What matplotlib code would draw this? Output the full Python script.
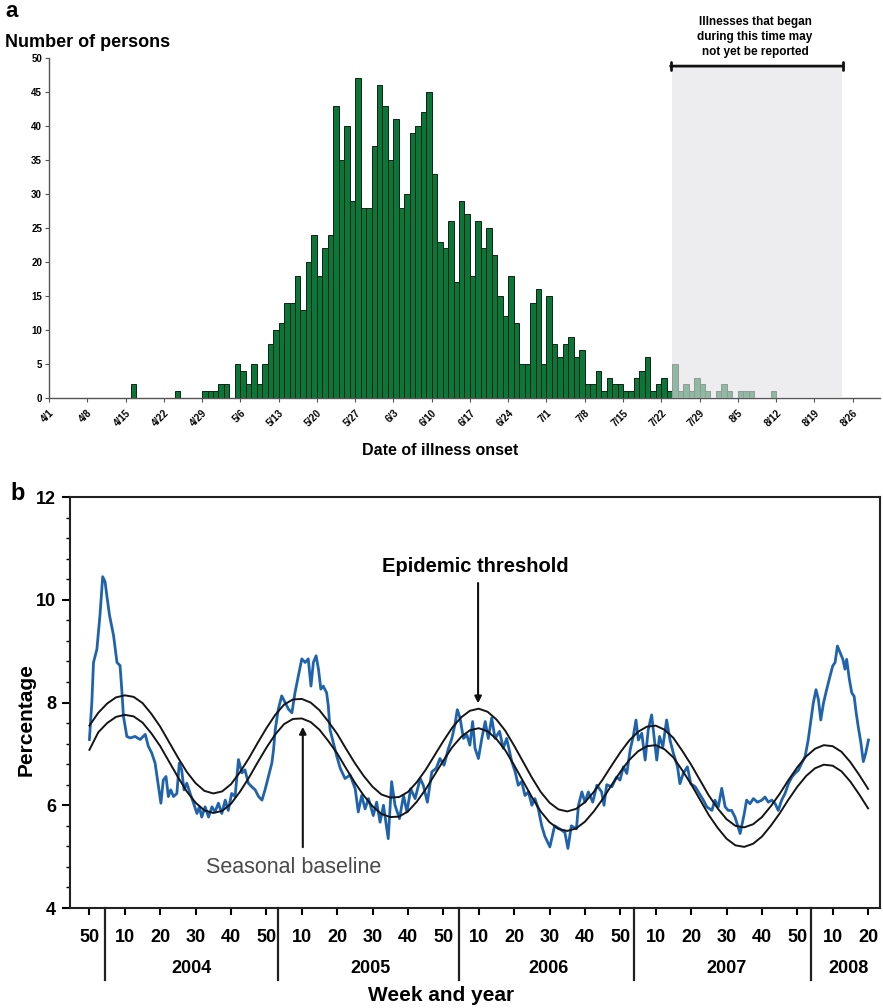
import numpy as np
import matplotlib
matplotlib.use("Agg")
import matplotlib.pyplot as plt
from matplotlib.patches import Rectangle
from matplotlib.ticker import MultipleLocator
import matplotlib.transforms as mtransforms

plt.rcParams['font.family'] = ['Liberation Sans', 'DejaVu Sans']

# ---------------- panel a: daily case counts from 4/1 ----------------
day_counts = [0] * 15 + [2] + [0] * 7 + [1] + [0] * 4 + [
    1, 1, 1, 2, 2, 0, 5, 4, 2, 5, 2, 5, 8, 10, 11, 14, 14, 18, 13, 20, 24, 18, 22, 24,
    43, 35, 40, 29, 47, 28, 28, 37, 46, 43, 35, 41, 28, 30, 39, 40, 42, 45, 33, 23, 22, 26,
    17, 29, 27, 18, 26, 22, 25, 21, 15, 12, 18, 11, 5, 5, 14, 16, 5, 15, 8, 6,
    8, 9, 6, 7, 2, 2, 4, 1, 3, 2, 2, 1, 1, 3, 4, 6, 1, 2, 3, 1, 5,
    1, 2, 1, 3, 2, 1, 0, 1, 2, 1, 0, 1, 1, 1, 0, 0, 0, 1]
date_labels = ['4/1', '4/8', '4/15', '4/22', '4/29', '5/6', '5/13', '5/20', '5/27',
               '6/3', '6/10', '6/17', '6/24', '7/1', '7/8', '7/15', '7/22', '7/29',
               '8/5', '8/12', '8/19', '8/26']
unreported_start = 114   # day index where reporting lag begins
unreported_end = 145

# ---------------- panel b: ILI percentage by week ----------------
# x = weeks since 2003 week 50
ili_week = [0.0, 0.7, 1.2, 2.2, 3.1, 3.9, 4.6, 5.1, 5.9, 7.1, 8.1, 9.0, 9.5, 10.0, 11.0, 12.0,
            13.4, 14.9, 16.4, 17.3, 18.3, 19.3, 20.3, 21.0, 21.7, 22.5, 23.2, 23.9, 24.7, 25.7,
            26.4, 27.1, 27.8, 28.6, 29.6, 30.6, 31.6, 32.3, 33.0, 34.0, 35.0, 36.0, 36.9, 37.9,
            38.9, 39.9, 40.8, 41.8, 42.8, 43.8, 44.8, 45.7, 46.7, 47.7, 48.7, 49.7, 50.7, 51.6,
            52.6, 53.6, 54.1, 54.6, 55.5, 56.5, 57.5, 58.5, 59.5, 60.4, 61.4, 62.4, 63.4, 64.3,
            65.1, 65.8, 66.6, 67.3, 68.0, 68.7, 69.7, 70.2, 70.7, 71.7, 72.7, 73.7, 75.1, 76.6,
            78.1, 79.0, 80.0, 81.0, 82.0, 83.4, 84.4, 85.4, 86.4, 87.8, 88.8, 89.8, 91.1, 92.3,
            93.3, 94.4, 95.7, 97.2, 98.1, 99.3, 100.6, 101.9, 103.0, 104.2, 105.5, 106.5, 107.4,
            108.1, 108.9, 109.9, 110.9, 111.8, 112.6, 113.3, 114.3, 115.3, 116.3, 117.2, 118.2,
            119.2, 120.5, 121.6, 122.6, 124.1, 125.1, 126.0, 127.0, 128.0, 129.0, 130.0, 130.9,
            131.9, 132.9, 133.8, 135.3, 136.7, 138.2, 139.7, 140.6, 141.6, 143.1, 143.7, 144.7,
            145.6, 146.6, 147.9, 149.1, 150.5, 151.2, 152.0, 153.5, 154.9, 155.9, 156.9, 157.9,
            158.9, 159.8, 160.6, 161.3, 162.3, 163.3, 164.2, 165.2, 165.9, 166.7, 167.5, 168.5,
            169.6, 170.6, 171.6, 172.8, 173.5, 174.5, 175.7, 176.7, 178.0, 179.2, 180.4, 181.4,
            182.9, 183.8, 184.8, 185.8, 186.8, 187.7, 188.7, 189.7, 191.2, 192.4, 193.1, 194.1,
            195.1, 196.3, 197.6, 198.5, 199.5, 200.5, 201.5, 202.4, 203.4, 204.4, 205.4, 206.4,
            207.3, 208.3, 209.3, 210.3, 211.2, 212.0, 212.7, 213.5, 214.2, 214.9, 215.7, 216.4,
            217.6, 218.4, 219.1, 219.8, 220.6, 221.4, 222.0, 222.5, 223.3, 224.0, 224.7, 225.3,
            225.9, 226.7, 227.4, 228.1, 228.9]
ili_pct = [7.28, 7.99, 8.78, 9.04, 9.70, 10.45, 10.35, 10.09, 9.70, 9.30, 8.78, 8.72, 8.26, 7.73,
           7.34, 7.31, 7.34, 7.28, 7.38, 7.15, 7.02, 6.82, 6.36, 6.04, 6.49, 6.56, 6.17, 6.30,
           6.17, 6.23, 6.82, 6.69, 6.30, 6.43, 6.23, 6.04, 5.84, 5.97, 5.77, 5.97, 5.77, 5.97,
           5.87, 6.04, 5.84, 6.10, 5.90, 6.23, 6.17, 6.89, 6.63, 6.69, 6.43, 6.36, 6.30, 6.17,
           6.10, 6.30, 6.56, 6.82, 7.08, 7.47, 7.87, 8.13, 8.00, 7.87, 7.80, 8.19, 8.52, 8.85,
           8.78, 8.85, 8.32, 8.78, 8.91, 8.65, 8.26, 8.32, 8.19, 7.93, 7.47, 7.21, 6.95, 6.72,
           6.52, 6.59, 6.32, 5.87, 6.19, 5.93, 6.13, 5.80, 6.06, 5.67, 6.00, 5.35, 6.46, 6.00,
           5.74, 6.19, 5.87, 6.32, 6.13, 6.52, 6.39, 6.06, 6.65, 6.72, 6.91, 6.78, 7.11, 7.30,
           7.57, 7.86, 7.70, 7.30, 7.37, 7.17, 7.63, 7.11, 6.91, 7.30, 7.63, 7.30, 7.70, 7.30,
           7.44, 7.11, 7.30, 6.85, 6.65, 6.39, 6.46, 6.19, 6.26, 6.00, 6.13, 5.93, 5.60, 5.40,
           5.19, 5.60, 5.54, 5.47, 5.16, 5.60, 5.54, 6.00, 6.26, 6.06, 6.26, 6.06, 6.39, 6.26,
           6.00, 6.40, 6.36, 6.55, 6.49, 6.75, 6.62, 7.08, 7.34, 7.66, 7.27, 7.40, 6.88, 7.47,
           7.76, 7.34, 6.88, 7.34, 7.14, 7.66, 7.27, 7.01, 6.75, 6.42, 6.62, 6.75, 6.42, 6.36,
           6.23, 6.10, 5.97, 5.90, 6.10, 5.97, 6.33, 5.97, 5.90, 5.90, 5.77, 5.45, 5.83, 6.10,
           6.03, 6.13, 6.06, 6.10, 6.16, 6.06, 6.10, 6.03, 5.90, 6.10, 6.23, 6.42, 6.55, 6.62,
           6.68, 6.82, 6.95, 7.27, 7.66, 7.99, 8.25, 8.06, 7.66, 7.99, 8.19, 8.51, 8.71, 8.78,
           9.10, 8.97, 8.84, 8.65, 8.84, 8.45, 8.19, 8.12, 7.80, 7.53, 7.21, 6.85, 7.01, 7.27]

# smooth curves read every 2.6 weeks
curve_week = np.linspace(0, 228.8, 89)
threshold = [7.55, 7.80, 7.98, 8.10, 8.14, 8.11, 7.99, 7.78, 7.53, 7.23, 6.93, 6.65, 6.43, 6.28,
             6.23, 6.27, 6.41, 6.64, 6.91, 7.21, 7.50, 7.76, 7.96, 8.06, 8.07, 8.00, 7.85, 7.63,
             7.39, 7.10, 6.82, 6.57, 6.36, 6.21, 6.15, 6.16, 6.26, 6.45, 6.69, 6.97, 7.25, 7.51,
             7.71, 7.84, 7.88, 7.82, 7.67, 7.45, 7.16, 6.85, 6.54, 6.26, 6.05, 5.92, 5.88, 5.93,
             6.06, 6.26, 6.50, 6.77, 7.03, 7.26, 7.43, 7.53, 7.55, 7.47, 7.31, 7.06, 6.79, 6.49,
             6.19, 5.94, 5.73, 5.60, 5.57, 5.63, 5.77, 5.98, 6.22, 6.49, 6.74, 6.95, 7.10, 7.17,
             7.15, 7.04, 6.84, 6.59, 6.32]
baseline = [7.08, 7.42, 7.60, 7.72, 7.76, 7.73, 7.61, 7.40, 7.15, 6.85, 6.55, 6.27, 6.05, 5.90,
            5.85, 5.89, 6.03, 6.26, 6.53, 6.83, 7.12, 7.38, 7.58, 7.68, 7.69, 7.62, 7.47, 7.25,
            7.01, 6.72, 6.44, 6.19, 5.98, 5.83, 5.77, 5.78, 5.88, 6.07, 6.31, 6.59, 6.87, 7.13,
            7.33, 7.46, 7.50, 7.44, 7.29, 7.07, 6.78, 6.47, 6.16, 5.88, 5.67, 5.54, 5.50, 5.55,
            5.68, 5.88, 6.12, 6.39, 6.65, 6.88, 7.05, 7.15, 7.17, 7.09, 6.93, 6.68, 6.41, 6.11,
            5.81, 5.56, 5.35, 5.22, 5.19, 5.25, 5.39, 5.60, 5.84, 6.11, 6.36, 6.57, 6.72, 6.79,
            6.77, 6.66, 6.46, 6.21, 5.94]

week_labels = ['50'] + ['10', '20', '30', '40', '50'] * 4 + ['10', '20']
year_labels = ['2004', '2005', '2006', '2007', '2008']
year_label_week = [30.1, 82.5, 134.8, 187.1, 222.9]
year_break_week = [4.6, 55.5, 108.6, 160.1, 212.0]

fig = plt.figure(figsize=(8.83, 10.08), dpi=100)

# ======== panel a ========
axa = fig.add_axes([0.0555, 0.6052, 0.941, 0.3373])
days = np.arange(len(day_counts))
counts = np.array(day_counts)
nz = counts > 0
axa.bar(days[nz], counts[nz], width=1.0, align='edge', color='#0b7638',
        edgecolor='#0c2414', linewidth=0.7, zorder=2)
axa.add_patch(Rectangle((unreported_start, 0), unreported_end - unreported_start, 48.5,
                        facecolor='#e3e3e6', edgecolor='none', alpha=0.62, zorder=3))
axa.annotate('', xy=(unreported_start - 0.3, 48.8), xytext=(unreported_end + 0.3, 48.8),
             arrowprops=dict(arrowstyle='|-|', lw=2.0, color='#111111',
                             mutation_scale=3, shrinkA=0, shrinkB=0), zorder=4)
axa.set_xlim(0, 152)
axa.set_ylim(0, 50)
axa.set_yticks(np.arange(0, 51, 5))
axa.set_xticks(np.arange(0, 7 * len(date_labels), 7))
axa.set_xticklabels(date_labels, rotation=45, ha='right', rotation_mode='anchor',
                    fontsize=7, fontweight='bold')
for lab in axa.get_yticklabels():
    lab.set_fontsize(7)
    lab.set_fontweight('bold')
for s in ['top', 'right']:
    axa.spines[s].set_visible(False)
for s in ['left', 'bottom']:
    axa.spines[s].set_color('#555555')
    axa.spines[s].set_linewidth(1.0)
axa.tick_params(axis='both', direction='out', length=3, width=0.8, color='#555555', pad=2)
axa.tick_params(axis='x', pad=4)

fig.text(0.006, 0.999, 'a', fontsize=16, fontweight='bold', va='top', ha='left')
fig.text(0.006, 0.958, 'Number of persons', fontsize=13, fontweight='bold', va='center', ha='left')
fig.text(0.498, 0.5526, 'Date of illness onset', fontsize=11.5, fontweight='bold',
         va='center', ha='center')
fig.text(0.855, 0.963, 'Illnesses that began\nduring this time may\nnot yet be reported',
         fontsize=8.5, fontweight='bold', va='center', ha='center', linespacing=1.35)

# ======== panel b ========
axb = fig.add_axes([0.0793, 0.0992, 0.9173, 0.4077])
axb.plot(ili_week, ili_pct, color='#1f63ad', lw=2.0, zorder=2)
axb.plot(curve_week, threshold, color='#151515', lw=1.4, zorder=3)
axb.plot(curve_week, baseline, color='#151515', lw=1.4, zorder=3)
axb.set_xlim(-5.7, 232.3)
axb.set_ylim(4, 12)
axb.set_yticks([4, 6, 8, 10, 12])
axb.yaxis.set_minor_locator(MultipleLocator(0.4))
axb.set_xticks(np.arange(len(week_labels)) * 10.4)
axb.set_xticklabels(week_labels, fontsize=13, fontweight='bold')
for lab in axb.get_yticklabels():
    lab.set_fontsize(13)
    lab.set_fontweight('bold')
for s in axb.spines.values():
    s.set_linewidth(1.5)
    s.set_color('#222222')
axb.tick_params(axis='x', direction='out', length=5, width=1.5, pad=10)
axb.tick_params(axis='y', which='major', direction='out', length=6, width=1.5, pad=4)
axb.tick_params(axis='y', which='minor', direction='out', length=3, width=1.0)

trans = mtransforms.blended_transform_factory(axb.transData, axb.transAxes)
for xb in year_break_week:
    axb.plot([xb, xb], [0, -0.175], transform=trans, color='#222222', lw=1.6, clip_on=False)
for xl, yl in zip(year_label_week, year_labels):
    axb.text(xl, -0.148, yl, transform=trans, ha='center', va='center',
             fontsize=13, fontweight='bold')

axb.annotate('', xy=(114.2, 7.93), xytext=(114.2, 10.38),
             arrowprops=dict(arrowstyle='-|>', color='#111111', lw=1.5, mutation_scale=10))
axb.text(113.3, 10.65, 'Epidemic threshold', ha='center', va='center', fontsize=14.5,
         fontweight='bold')
axb.annotate('', xy=(62.7, 7.58), xytext=(62.7, 5.13),
             arrowprops=dict(arrowstyle='-|>', color='#111111', lw=1.5, mutation_scale=10))
axb.text(60.0, 4.78, 'Seasonal baseline', ha='center', va='center', fontsize=15.5,
         color='#4a4a4a')

fig.text(0.012, 0.51, 'b', fontsize=17, fontweight='bold', va='center', ha='left')
fig.text(0.03, 0.286, 'Percentage', fontsize=15, fontweight='bold', rotation=90,
         va='center', ha='center')
fig.text(0.5, 0.012, 'Week and year', fontsize=15, fontweight='bold', va='center', ha='center')

fig.savefig('out.png', dpi=100)
